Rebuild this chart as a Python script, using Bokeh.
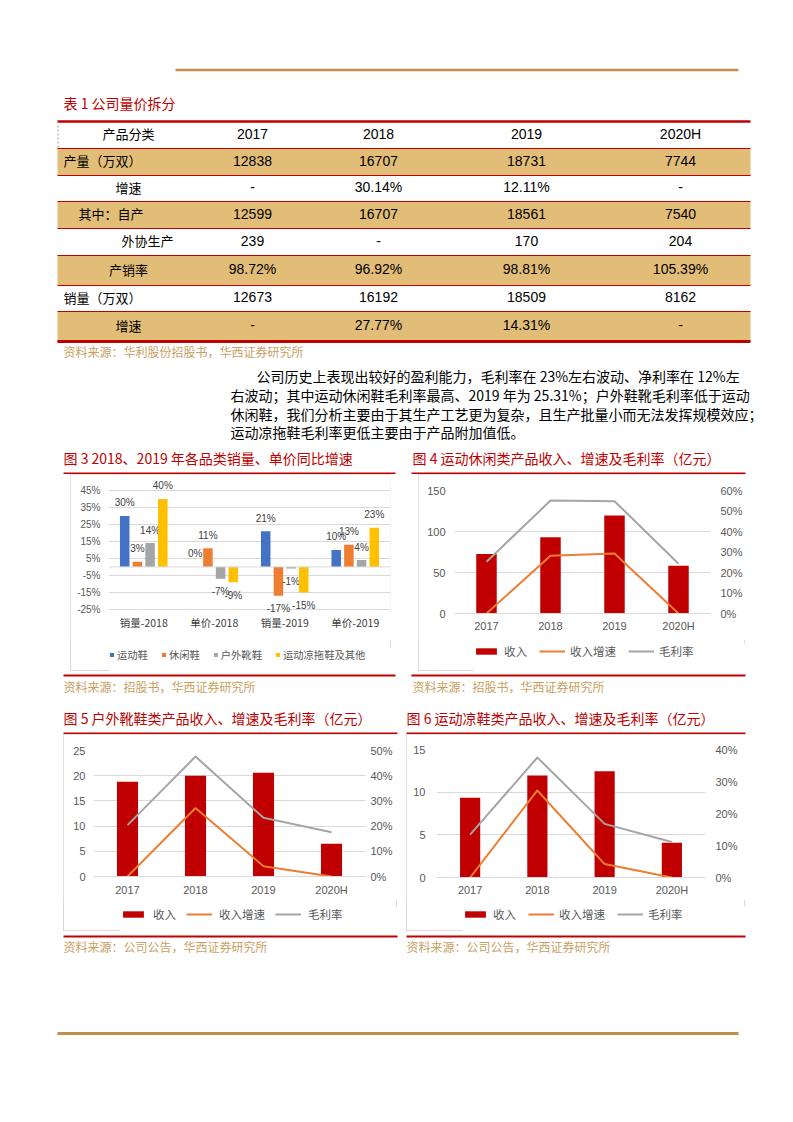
from bokeh.plotting import figure
from bokeh.models import (Range1d, FactorRange, LinearAxis, PrintfTickFormatter, FixedTicker,
                          Legend, LegendItem, ColumnDataSource, Span, Spacer)
from bokeh.layouts import column, row
from bokeh.transform import dodge
from bokeh.core.properties import value
from bokeh.embed import file_html
from bokeh.resources import INLINE

CJK = "Noto Sans CJK SC"
LAT = "Liberation Sans"
RED = "#C00000"
TAN_LINE = "#C08F4A"
TAN_FILL = "#E2BD78"
SRC = "#C9A062"
GRID = "#D9D9D9"
TICK = "#595959"
ORANGE = "#ED7D31"
GRAY = "#A5A5A5"

# ---------------- data: table ----------------
table_title = "表 1 公司量价拆分"
table_header = ["产品分类", "2017", "2018", "2019", "2020H"]
row_labels = ["产量（万双）", "增速", "其中：自产", "外协生产", "产销率", "销量（万双）", "增速"]
col_2017 = ["12838", "-", "12599", "239", "98.72%", "12673", "-"]
col_2018 = ["16707", "30.14%", "16707", "-", "96.92%", "16192", "27.77%"]
col_2019 = ["18731", "12.11%", "18561", "170", "98.81%", "18509", "14.31%"]
col_2020h = ["7744", "-", "7540", "204", "105.39%", "8162", "-"]
table_source = "资料来源：华利股份招股书，华西证券研究所"

para_lines = [
    "公司历史上表现出较好的盈利能力，毛利率在 23%左右波动、净利率在 12%左",
    "右波动；其中运动休闲鞋毛利率最高、2019 年为 25.31%；户外鞋靴毛利率低于运动",
    "休闲鞋，我们分析主要由于其生产工艺更为复杂，且生产批量小而无法发挥规模效应；",
    "运动凉拖鞋毛利率更低主要由于产品附加值低。",
]

# ---------------- data: figure 3 ----------------
title3 = "图 3 2018、2019 年各品类销量、单价同比增速"
cats3 = ["销量-2018", "单价-2018", "销量-2019", "单价-2019"]
series3 = ["运动鞋", "休闲鞋", "户外靴鞋", "运动凉拖鞋及其他"]
sport3 = [30, 0, 21, 10]
casual3 = [3, 11, -17, 13]
outdoor3 = [14, -7, -1, 4]
sandal3 = [40, -9, -15, 23]
ticks3 = [-25, -15, -5, 5, 15, 25, 35, 45]
source34 = "资料来源：招股书，华西证券研究所"

# ---------------- data: figures 4-6 ----------------
years = ["2017", "2018", "2019", "2020H"]
legend_names = ["收入", "收入增速", "毛利率"]

title4 = "图 4 运动休闲类产品收入、增速及毛利率（亿元）"
rev4 = [72.5, 93, 119.4, 58.3]
growth4 = [0, 28.2, 29.3, 0]
margin4 = [25.2, 55.1, 54.8, 24.3]

title5 = "图 5 户外靴鞋类产品收入、增速及毛利率（亿元）"
rev5 = [18.8, 20.0, 20.6, 6.5]
growth5 = [0, 27.2, 4.1, 0]
margin5 = [20.4, 47.6, 23.3, 17.6]

title6 = "图 6 运动凉鞋类产品收入、增速及毛利率（亿元）"
rev6 = [9.35, 11.94, 12.45, 4.08]
growth6 = [0, 27.2, 4.2, 0]
margin6 = [13.4, 37.5, 16.75, 11.1]
source56 = "资料来源：公司公告，华西证券研究所"

PAGE_W = 793


def page_fig(y0, y1):
    p = figure(width=PAGE_W, height=int(y1 - y0), x_range=Range1d(0, PAGE_W), y_range=Range1d(y1, y0),
               x_axis_type=None, y_axis_type=None, output_backend="svg", toolbar_location=None,
               min_border=0, outline_line_color=None)
    p.grid.visible = False
    p.background_fill_color = "white"
    p.border_fill_color = "white"
    return p


def hline(p, x0, x1, y, color, w):
    p.segment(x0=[x0], y0=[y], x1=[x1], y1=[y], line_color=color, line_width=w)


def txt(p, xs, ys, texts, size, color, font=CJK, align="left"):
    p.text(x=xs, y=ys, text=texts, text_font=value(font), text_font_size=size,
           text_color=color, text_align=align, text_baseline="middle")


# ================= top section =================
top = page_fig(0, 474)
hline(top, 175, 738, 69.5, TAN_LINE, 2.5)
txt(top, [63], [102], [table_title], "14px", RED)

row_edges = [121, 148, 175, 201, 228, 255, 285, 311, 341]
tl, tr = 57, 750
fill_rows = [i for i in range(len(row_labels)) if i % 2 == 0]
top.quad(left=[tl] * len(fill_rows), right=[tr] * len(fill_rows),
         top=[row_edges[i + 1] for i in fill_rows], bottom=[row_edges[i + 2] for i in fill_rows],
         fill_color=TAN_FILL, line_color=None)
top.segment(x0=[tl] * 7, x1=[tr] * 7, y0=row_edges[1:-1], y1=row_edges[1:-1], line_color=RED, line_width=1.2)
hline(top, tl, tr, row_edges[0], RED, 2.5)
hline(top, tl, tr, row_edges[-1], RED, 3)
top.segment(x0=[57.5], x1=[57.5], y0=[121], y1=[148], line_color="#999999", line_width=1, line_dash="2 2")

centers = [(row_edges[i] + row_edges[i + 1]) / 2 - 1.5 for i in range(len(row_edges) - 1)]
col_x = [252, 378, 526, 680]
txt(top, [128], [centers[0]], [table_header[0]], "13px", "#000000", CJK, "center")
txt(top, col_x, [centers[0]] * 4, table_header[1:], "14px", "#000000", LAT, "center")
label_x = [63, 128, 78, 147, 128, 63, 128]
left_idx = [i for i in range(7) if label_x[i] < 100]
cen_idx = [i for i in range(7) if label_x[i] >= 100]
txt(top, [label_x[i] for i in left_idx], [centers[i + 1] for i in left_idx],
    [row_labels[i] for i in left_idx], "13px", "#000000", CJK, "left")
txt(top, [label_x[i] for i in cen_idx], [centers[i + 1] for i in cen_idx],
    [row_labels[i] for i in cen_idx], "13px", "#000000", CJK, "center")
for cx, col in zip(col_x, [col_2017, col_2018, col_2019, col_2020h]):
    txt(top, [cx] * 7, centers[1:], col, "14px", "#000000", LAT, "center")
txt(top, [63], [351], [table_source], "12px", SRC)

txt(top, [256, 230, 230, 230], [375, 394, 413, 431], para_lines, "14px", "#000000")

txt(top, [63, 412], [457, 457], [title3, title4], "14px", RED)
hline(top, 63, 395, 473, RED, 2)
hline(top, 411, 745, 473, RED, 2)

# ================= middle strip =================
mid = page_fig(671, 734)
hline(mid, 63, 395, 675, RED, 2)
hline(mid, 411, 745, 675, RED, 2)
txt(mid, [63, 412], [686, 686], [source34, source34], "12px", SRC)
txt(mid, [63, 406], [717, 717], [title5, title6], "14px", RED)
hline(mid, 63, 397, 733, RED, 2)
hline(mid, 406, 745, 733, RED, 2)

# ================= bottom strip =================
bot = page_fig(931, 1081)
hline(bot, 63, 397, 936, RED, 2)
hline(bot, 406, 745, 936, RED, 2)
txt(bot, [63, 406], [946, 946], [source56, source56], "12px", SRC)
hline(bot, 57, 738, 1033, TAN_LINE, 3)

BOX = {"outline": "1px solid #D9D9D9", "outline-offset": "-1px"}


def legend_block(total_w, total_h, off_x, off_y, specs, standoff, spacing, gw, gh, lh, fsize):
    """Strip below a chart that holds the chart's legend (swatch renderers sit off-view)."""
    w, h = total_w - off_x, total_h - off_y
    lf = figure(width=w, height=h, x_range=Range1d(0, 1), y_range=Range1d(0, 1),
                x_axis_type=None, y_axis_type=None, output_backend="svg", toolbar_location=None,
                min_border=0, outline_line_color=None)
    lf.grid.visible = False
    items = []
    for label, kind, color in specs:
        if kind == "bar":
            r = lf.vbar(x=[-5], top=[-5], bottom=[-6], width=0.5, fill_color=color, line_color=None)
        else:
            r = lf.line(x=[-5, -4], y=[-5, -5], line_color=color, line_width=2)
        items.append(LegendItem(label=label, renderers=[r]))
    leg = Legend(items=items, location="top_left", orientation="horizontal", padding=0, margin=0,
                 spacing=spacing, label_standoff=standoff, glyph_width=gw, glyph_height=gh,
                 label_height=lh, label_text_font=CJK, label_text_font_size=fsize,
                 label_text_color=TICK, background_fill_alpha=0, border_line_color=None)
    lf.add_layout(leg)
    return row(Spacer(width=off_x, height=total_h),
               column(Spacer(width=w, height=off_y), lf))


def clean_axis(ax, font, size, color, standoff):
    ax.axis_line_color = None
    ax.major_tick_line_color = None
    ax.minor_tick_line_color = None
    ax.major_tick_out = 0
    ax.major_tick_in = 0
    ax.minor_tick_out = 0
    ax.minor_tick_in = 0
    ax.major_label_text_font = font
    ax.major_label_text_font_size = size
    ax.major_label_text_color = color
    ax.major_label_standoff = standoff


# ================= figure 3 =================
p3 = figure(width=321, height=166, x_range=FactorRange(*cats3), y_range=Range1d(-28, 53.18),
            min_border_left=38, min_border_right=1, min_border_top=2, min_border_bottom=26,
            output_backend="svg", toolbar_location=None, outline_line_color=None)
p3.xgrid.visible = False
tk3 = FixedTicker(ticks=ticks3)
p3.yaxis.ticker = tk3
p3.ygrid.ticker = tk3
p3.ygrid.grid_line_color = GRID
p3.yaxis.formatter = PrintfTickFormatter(format="%d%%")
clean_axis(p3.yaxis[0], LAT, "10px", TICK, 8)
clean_axis(p3.xaxis[0], CJK, "10.5px", "#404040", 0)
p3.add_layout(Span(location=0, dimension="width", line_color=GRID, line_width=1))

colors3 = ["#4472C4", "#ED7D31", "#A5A5A5", "#FFC000"]
offs3 = [-0.27, -0.09, 0.09, 0.27]
for name, vals, c, off in zip(series3, [sport3, casual3, outdoor3, sandal3], colors3, offs3):
    src = ColumnDataSource(dict(cat=cats3, v=vals, lab=["%d%%" % v for v in vals],
                                yo=[-13 if v >= 0 else 13 for v in vals]))
    p3.vbar(x=dodge("cat", off, range=p3.x_range), top="v", bottom=0, width=0.135,
            source=src, fill_color=c, line_color=None)
    p3.text(x=dodge("cat", off, range=p3.x_range), y="v", text="lab", y_offset="yo", source=src,
            text_font=value(LAT), text_font_size="10px", text_color="#404040",
            text_align="center", text_baseline="middle")
lb3 = legend_block(321, 31, 39, 7, [(n, "bar", c) for n, c in zip(series3, colors3)], 3, 13, 5, 5, 12, "10.3px")
col3 = column(p3, lb3, styles=BOX)


# ================= combo charts =================
def combo(width, rev, growth, margin, ymax, ystep, pmax, bl, br, bt, bb, sl, sr, sx, barw):
    p = figure(width=width, height=166, x_range=FactorRange(*years), y_range=Range1d(0, ymax),
               min_border_left=bl, min_border_right=br, min_border_top=bt, min_border_bottom=bb,
               output_backend="svg", toolbar_location=None, outline_line_color=None)
    p.extra_y_ranges = {"pct": Range1d(0, pmax)}
    p.xgrid.visible = False
    tk = FixedTicker(ticks=list(range(0, ymax + 1, ystep)))
    p.yaxis.ticker = tk
    p.ygrid.ticker = tk
    p.ygrid.grid_line_color = GRID
    rax = LinearAxis(y_range_name="pct", ticker=FixedTicker(ticks=list(range(0, pmax + 1, 10))),
                     formatter=PrintfTickFormatter(format="%d%%"))
    p.add_layout(rax, "right")
    clean_axis(p.yaxis[0], LAT, "11px", TICK, sl)
    clean_axis(rax, LAT, "11px", TICK, sr)
    clean_axis(p.xaxis[0], LAT, "11px", TICK, sx)
    p.xaxis.axis_line_color = GRID
    src = ColumnDataSource(dict(year=years, rev=rev, gr=growth, gm=margin))
    p.vbar(x="year", top="rev", width=barw, source=src, fill_color=RED, line_color=None)
    p.line(x="year", y="gr", y_range_name="pct", source=src, line_color=ORANGE, line_width=2)
    p.line(x="year", y="gm", y_range_name="pct", source=src, line_color=GRAY, line_width=2)
    return p


combo_specs = list(zip(legend_names, ["bar", "line", "line"], [RED, ORANGE, GRAY]))

p4 = combo(327, rev4, growth4, margin4, 150, 50, 60, 36, 32, 16, 27, 9, 10, 6, 0.32)
lb4 = legend_block(327, 31, 55, 3, combo_specs, 5, 12, 26, 8, 14, "11.5px")
col4 = column(p4, lb4, styles=BOX)

p5 = combo(334, rev5, growth5, margin5, 25, 5, 50, 30, 32, 16, 24, 8, 5, 7, 0.31)
lb5 = legend_block(334, 31, 57, 6, combo_specs, 7, 10, 26, 8, 14, "11.5px")
col5 = column(p5, lb5, styles=BOX)

p6 = combo(339, rev6, growth6, margin6, 15, 5, 40, 30, 40, 15, 23, 11, 10, 6, 0.30)
lb6 = legend_block(339, 31, 56, 6, combo_specs, 5, 12, 26, 8, 14, "11.5px")
col6 = column(p6, lb6, styles=BOX)

row1 = row(Spacer(width=70, height=197), col3, Spacer(width=27, height=197), col4, Spacer(width=48, height=197))
row2 = row(Spacer(width=63, height=197), col5, Spacer(width=9, height=197), col6, Spacer(width=48, height=197))
layout = column(top, row1, mid, row2, bot)

open("out.html", "w").write(file_html(layout, INLINE))
